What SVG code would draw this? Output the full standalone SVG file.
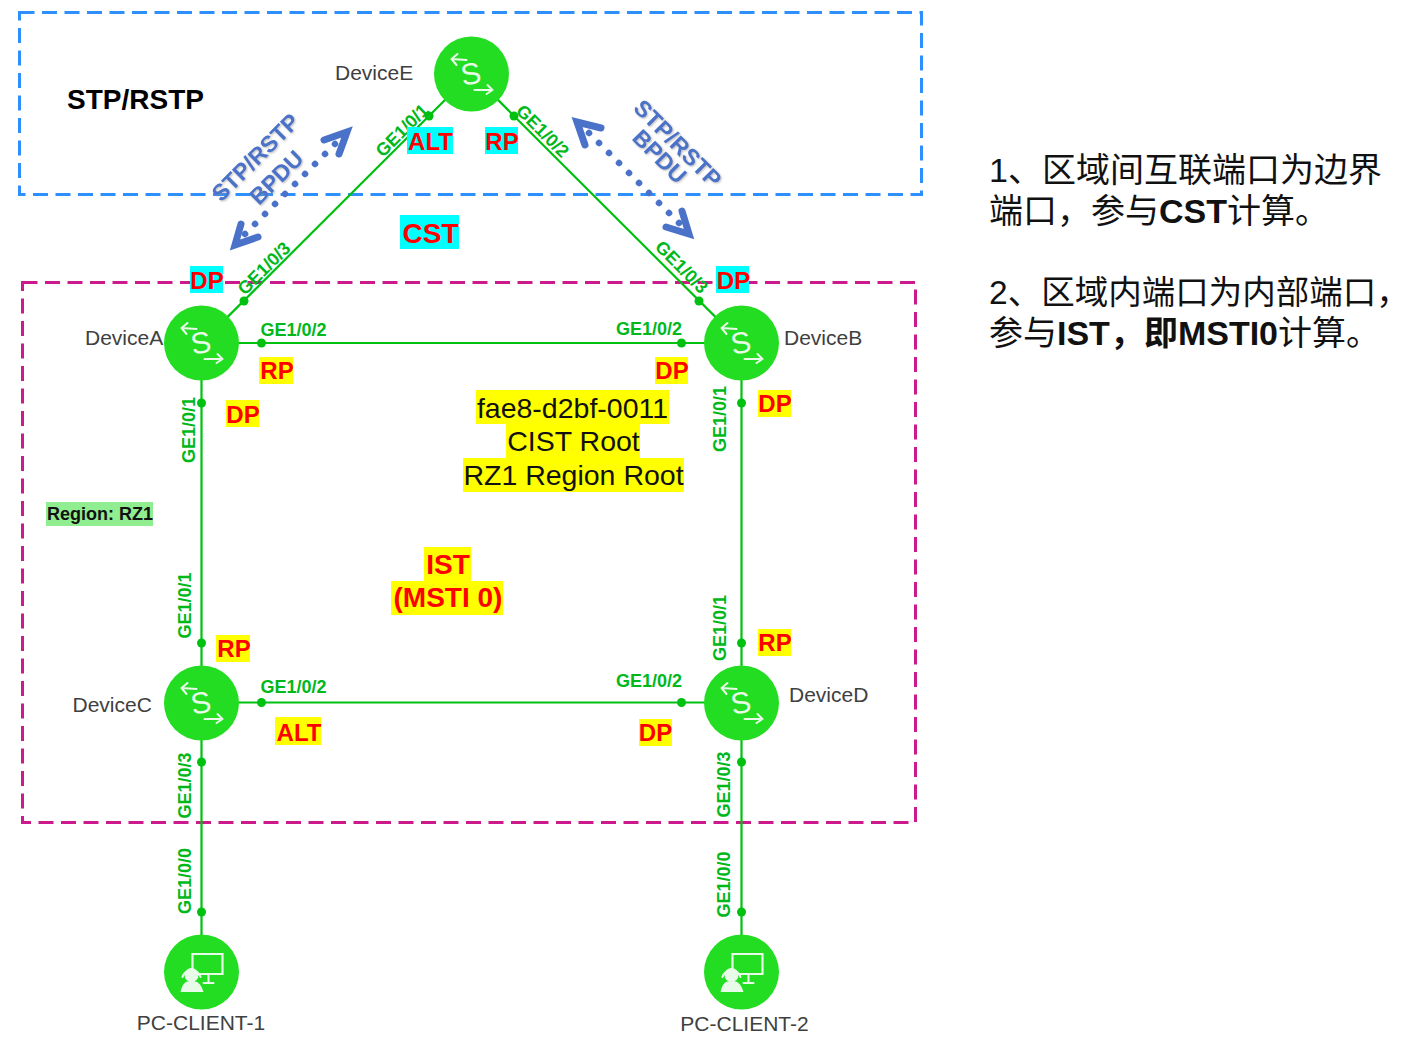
<svg xmlns="http://www.w3.org/2000/svg" width="1410" height="1044" viewBox="0 0 1410 1044">
<style>
text{font-family:"Liberation Sans",Arial,sans-serif}
.zone{fill:none;stroke-width:3;stroke-dasharray:15 7.5}
.ln{stroke:#00c010;stroke-width:2.2;fill:none}
.dot{fill:#00c010}
.n{fill:#23dd23}
.ic{fill:none;stroke:#e8fbe8;stroke-width:2;stroke-linecap:round;stroke-linejoin:round}
.s{font-size:30px;fill:#e8fbe8;text-anchor:middle}
.dev{font-size:21px;fill:#404040}
.pt{font-size:18px;font-weight:bold;fill:#00b81a}
.tag{font-size:24px;font-weight:bold;fill:#f00;text-anchor:middle}
.y{fill:#ff0}.c{fill:#0ff}
.note{font-size:28.500px;fill:#111;text-anchor:middle}
.bpdu{font-size:23px;font-weight:bold;fill:#4a72c8;text-anchor:middle}
.dash{stroke:#4a72c8;stroke-width:6.500;stroke-linecap:round;stroke-dasharray:.1 14.040;fill:none}
.head{fill:none;stroke:#4a72c8;stroke-width:7;stroke-linecap:round;stroke-linejoin:miter;stroke-miterlimit:8}
.cn{font-size:34px;fill:#111;font-family:"Liberation Sans","Noto Sans CJK SC",sans-serif}
</style>
<defs>
<filter id="soft" x="-20%" y="-20%" width="140%" height="140%"><feDropShadow dx="1" dy="1" stdDeviation="1" flood-color="#888" flood-opacity=".6"/></filter>
<g id="sw"><circle r="37.500" class="n"/><path class="ic" d="M-20-15L-5-14M-20-15l6-5M-20-15l5 6M3 16H21M21 16l-5-5M21 16l-6 4"/><text class="s" transform="translate(1 10) rotate(-10)">S</text></g>
<g id="pc"><circle r="37.500" class="n"/><path d="M-9-18H21V2H-9Z" fill="none" stroke="#e8fbe8" stroke-width="2.200"/><path class="ic" d="M7 3V10M2 11H12"/><path d="M-19 5A9.500 9.500 0 0 1-1 5" class="ic"/><circle cx="-10" cy="3" r="7" fill="#e8fbe8"/><path d="M-21 20C-19 11-16 9-10 9S-1 11 2 20Z" fill="#e8fbe8"/></g>
</defs>
<rect class="zone" x="19.500" y="12.500" width="902" height="182" stroke="#2e8fff"/>
<rect class="zone" x="22.500" y="282.500" width="893" height="540" stroke="#cc1a8c"/>
<g id="connectors">
<path class="ln" d="M471.500 73.500L201.500 343H741.500ZM201.500 343V972M741.500 343V972M201.500 702.500H741.500"/>
<g class="dot"><circle cx="429" cy="116" r="4.500"/><circle cx="514" cy="116" r="4.500"/><circle cx="244" cy="301" r="4.500"/><circle cx="699" cy="301" r="4.500"/><circle cx="261.500" cy="343" r="4.500"/><circle cx="681.500" cy="343" r="4.500"/><circle cx="201.500" cy="403" r="4.500"/><circle cx="741.500" cy="403" r="4.500"/><circle cx="201.500" cy="643" r="4.500"/><circle cx="741.500" cy="643" r="4.500"/><circle cx="261.500" cy="702.500" r="4.500"/><circle cx="681.500" cy="702.500" r="4.500"/><circle cx="201.500" cy="762" r="4.500"/><circle cx="741.500" cy="762" r="4.500"/><circle cx="201.500" cy="912" r="4.500"/><circle cx="741.500" cy="912" r="4.500"/></g>
</g>
<g id="bpdu-left"><path class="dash" d="M245 234L335 144"/><path class="head" d="M324 140L347 132L339 154M241 224L235 245L258 237"/><g filter="url(#soft)"><text class="bpdu" transform="translate(261 163) rotate(-45)">STP/RSTP</text><text class="bpdu" transform="translate(282 183) rotate(-45)">BPDU</text></g></g>
<g id="bpdu-right"><path class="dash" d="M589 133L679 223"/><path class="head" d="M601 128L577 122L585 145M682 211L689 234L666 227"/><g filter="url(#soft)"><text class="bpdu" transform="translate(672 149) rotate(45)">STP/RSTP</text><text class="bpdu" transform="translate(654 162) rotate(45)">BPDU</text></g></g>
<g id="DeviceE"><use href="#sw" x="471.500" y="74"/><text class="dev" x="335" y="80">DeviceE</text></g>
<g id="DeviceA"><use href="#sw" x="201.500" y="343"/><text class="dev" x="85" y="345">DeviceA</text></g>
<g id="DeviceB"><use href="#sw" x="741.500" y="343"/><text class="dev" x="784" y="345">DeviceB</text></g>
<g id="DeviceC"><use href="#sw" x="201.500" y="703"/><text class="dev" x="72.500" y="712">DeviceC</text></g>
<g id="DeviceD"><use href="#sw" x="741.500" y="703"/><text class="dev" x="789" y="702">DeviceD</text></g>
<g id="PC-CLIENT-1"><use href="#pc" x="201.500" y="972"/><text class="dev" x="201" y="1030" text-anchor="middle">PC-CLIENT-1</text></g>
<g id="PC-CLIENT-2"><use href="#pc" x="741.500" y="972"/><text class="dev" x="744.500" y="1031" text-anchor="middle">PC-CLIENT-2</text></g>
<g id="port-labels" class="pt">
<text class="pt" transform="translate(383 158) rotate(-45)">GE1/0/1</text>
<text class="pt" transform="translate(515 112) rotate(45)">GE1/0/2</text>
<text class="pt" transform="translate(245 296) rotate(-45)">GE1/0/3</text>
<text class="pt" transform="translate(654 248) rotate(45)">GE1/0/3</text>
<text class="pt" x="260.500" y="336">GE1/0/2</text><text class="pt" x="616" y="335">GE1/0/2</text>
<text class="pt" x="260.500" y="692.500">GE1/0/2</text><text class="pt" x="616" y="686.500">GE1/0/2</text>
<text class="pt" transform="translate(195 463) rotate(-90)">GE1/0/1</text>
<text class="pt" transform="translate(726 452) rotate(-90)">GE1/0/1</text>
<text class="pt" transform="translate(191 638.500) rotate(-90)">GE1/0/1</text>
<text class="pt" transform="translate(726 661) rotate(-90)">GE1/0/1</text>
<text class="pt" transform="translate(191 818.500) rotate(-90)">GE1/0/3</text>
<text class="pt" transform="translate(730 817.500) rotate(-90)">GE1/0/3</text>
<text class="pt" transform="translate(191 914) rotate(-90)">GE1/0/0</text>
<text class="pt" transform="translate(730 917.500) rotate(-90)">GE1/0/0</text>
</g>
<g id="tags">
<rect class="c" x="407" y="127" width="46" height="27"/><text class="tag" x="430.500" y="150">ALT</text>
<rect class="c" x="485" y="127" width="33" height="27"/><text class="tag" x="502" y="150">RP</text>
<rect class="c" x="190" y="266" width="33" height="27"/><text class="tag" x="207" y="289">DP</text>
<rect class="c" x="716" y="266" width="33" height="27"/><text class="tag" x="733.500" y="289">DP</text>
<rect class="c" x="400" y="215" width="59" height="34"/><text class="tag" x="430.500" y="243" style="font-size:28px">CST</text>
<rect class="y" x="259" y="357" width="34" height="27"/><text class="tag" x="277" y="379">RP</text>
<rect class="y" x="655" y="357" width="33" height="27"/><text class="tag" x="672" y="379">DP</text>
<rect class="y" x="226" y="400" width="33" height="27"/><text class="tag" x="243" y="423">DP</text>
<rect class="y" x="758" y="390" width="33" height="27"/><text class="tag" x="775" y="412">DP</text>
<rect class="y" x="216" y="635" width="34" height="27"/><text class="tag" x="234" y="657">RP</text>
<rect class="y" x="758" y="629" width="33" height="27"/><text class="tag" x="775" y="651">RP</text>
<rect class="y" x="275" y="717" width="46" height="28"/><text class="tag" x="299" y="741">ALT</text>
<rect class="y" x="639" y="719" width="33" height="27"/><text class="tag" x="655.500" y="741">DP</text>
<rect class="y" x="424" y="547" width="47" height="34"/><text class="tag" x="448" y="574" style="font-size:28px">IST</text>
<rect class="y" x="391" y="581" width="112" height="34"/><text class="tag" x="448" y="607" style="font-size:28px">(MSTI 0)</text>
<rect class="y" x="476" y="390" width="193" height="34"/><text class="note" x="572.500" y="418">fae8-d2bf-0011</text>
<rect class="y" x="506" y="424" width="134" height="34"/><text class="note" x="573.500" y="451">CIST Root</text>
<rect class="y" x="463" y="458" width="221" height="34"/><text class="note" x="573.500" y="485">RZ1 Region Root</text>
<rect fill="#90ee90" x="46" y="502" width="107" height="24"/><text x="47" y="520" font-size="18" font-weight="bold" fill="#111">Region: RZ1</text>
<text x="67" y="109" font-size="28" font-weight="bold" fill="#000">STP/RSTP</text>
</g>
<g id="notes">
<text x="989" y="182" class="cn">1、区域间互联端口为边界</text>
<text x="989" y="223" class="cn">端口，参与<tspan font-weight="bold">CST</tspan>计算。</text>
<text x="989" y="304" class="cn" style="font-size:33.500px">2、区域内端口为内部端口，</text>
<text x="989" y="345" class="cn">参与<tspan font-weight="bold">IST，即MSTI0</tspan>计算。</text>
</g>
</svg>
